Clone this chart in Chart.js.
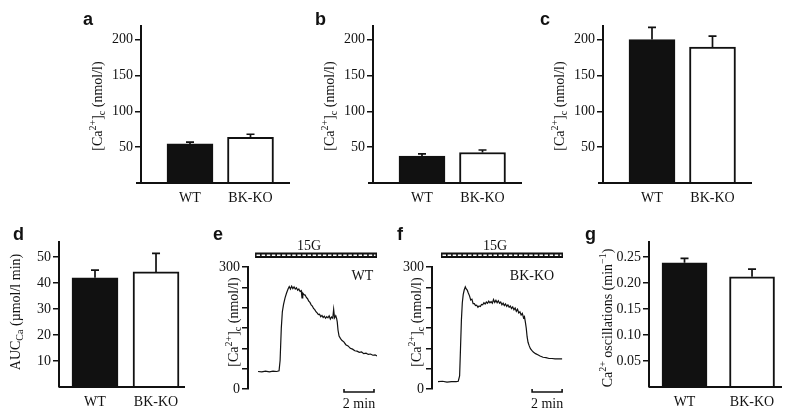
<!DOCTYPE html>
<html>
<head>
<meta charset="utf-8">
<title>BK-KO calcium</title>
<script src="https://cdn.jsdelivr.net/npm/chart.js@4.4.0/dist/chart.umd.min.js"></script>
<style>
  html, body { margin: 0; padding: 0; background: #fff; }
  #wrap { position: relative; width: 800px; height: 420px; }
  #wrap canvas { position: absolute; left: 0; top: 0; }
</style>
</head>
<body>
<div id="wrap">
  <canvas id="pa" width="800" height="420"></canvas>
  <canvas id="pb" width="800" height="420"></canvas>
  <canvas id="pc" width="800" height="420"></canvas>
  <canvas id="pd" width="800" height="420"></canvas>
  <canvas id="pe" width="800" height="420"></canvas>
  <canvas id="pf" width="800" height="420"></canvas>
  <canvas id="pg" width="800" height="420"></canvas>
</div>
<script>
const groups = ['WT', 'BK-KO'];

// a, b, c: [Ca2+]c (nmol/l), mean and SEM
const caA = [54.5, 63.8];
const caAErr = [2.6, 4.2];
const caB = [37.5, 42.5];
const caBErr = [3, 3.5];
const caC = [200, 189.5];
const caCErr = [17, 15.5];

// d: AUC (µmol/l min)
const auc = [42, 44.3];
const aucErr = [3, 7.1];

// g: oscillation frequency (min-1)
const osc = [0.239, 0.212];
const oscErr = [0.0085, 0.015];

const caTicks = [50, 100, 150, 200];
const aucTicks = [10, 20, 30, 40, 50];
const oscTicks = [0.05, 0.10, 0.15, 0.20, 0.25];
const traceTicks = [0, 50, 100, 150, 200, 250, 300];

// e: WT trace, time (min) and [Ca2+]c (nmol/l)
const timeWT = [
  0.0, 0.25, 0.5, 0.75, 1.0, 1.25, 1.4, 1.47, 1.55, 1.62,
  1.7, 1.8, 1.9, 2.0, 2.08, 2.16, 2.24, 2.32, 2.4, 2.48,
  2.56, 2.64, 2.72, 2.8, 2.88, 2.93, 2.98, 3.06, 3.14, 3.22,
  3.3, 3.38, 3.46, 3.54, 3.62, 3.7, 3.78, 3.86, 3.94, 4.02,
  4.1, 4.18, 4.26, 4.34, 4.42, 4.5, 4.58, 4.66, 4.74, 4.82,
  4.9, 4.98, 5.04, 5.1, 5.18, 5.24, 5.28, 5.33, 5.4, 5.5,
  5.6, 5.72, 5.85, 6.0, 6.15, 6.3, 6.45, 6.6, 6.75, 6.9,
  7.05, 7.2, 7.35, 7.5, 7.65, 7.8, 7.93
];
const caWT = [
  43, 42, 44, 42, 44, 43, 45, 70, 150, 190,
  208, 224, 236, 246, 252, 246, 253, 247, 251, 246,
  249, 243, 246, 240, 242, 224, 236, 232, 231, 225,
  222, 216, 213, 207, 204, 198, 195, 190, 187, 183,
  184, 178, 181, 176, 179, 174, 178, 175, 180, 172,
  177, 174, 196, 175, 180, 173, 165, 145, 130, 124,
  119, 116, 109, 106, 100, 98, 94, 93, 90, 91,
  87, 88, 85, 86, 83, 84, 81
];

// f: BK-KO trace
const timeKO = [
  0.0, 0.3, 0.6, 0.9, 1.2, 1.35, 1.44, 1.5, 1.56, 1.62,
  1.68, 1.75, 1.82, 1.88, 1.95, 2.02, 2.1, 2.18, 2.26, 2.34,
  2.42, 2.5, 2.58, 2.66, 2.74, 2.82, 2.9, 2.98, 3.06, 3.14,
  3.22, 3.3, 3.38, 3.46, 3.54, 3.62, 3.7, 3.78, 3.86, 3.94,
  4.02, 4.1, 4.18, 4.26, 4.34, 4.42, 4.5, 4.58, 4.66, 4.74,
  4.82, 4.9, 4.98, 5.06, 5.14, 5.22, 5.3, 5.38, 5.46, 5.54,
  5.62, 5.7, 5.76, 5.82, 5.88, 5.94, 6.0, 6.08, 6.16, 6.25,
  6.35, 6.5, 6.65, 6.8, 7.0, 7.2, 7.4, 7.6, 7.8, 8.0,
  8.15, 8.27
];
const caKO = [
  18, 19, 17, 18, 18, 19, 32, 100, 170, 212,
  232, 244, 251, 246, 243, 236, 229, 219, 221, 210,
  210, 205, 206, 201, 204, 203, 208, 207, 212, 209,
  214, 211, 216, 212, 215, 211, 220, 213, 218, 212,
  217, 211, 214, 207, 211, 205, 209, 203, 207, 201,
  204, 198, 202, 195, 199, 191, 196, 187, 190, 182,
  186, 175, 178, 165, 150, 128, 115, 106, 99, 95,
  91, 87, 84, 81, 78, 77, 75, 75, 74, 74,
  74, 74
];

// 15 mM glucose period and 2 min scale bar (min, on each trace's time axis)
const glucoseWT = [-0.2, 7.93];
const glucoseKO = [0.2, 8.33];
const scaleBarWT = [5.73, 2];
const scaleBarKO = [6.27, 2];

const INK = '#111';
const SERIF = '"Liberation Serif", "Times New Roman", serif';
const SANS = '"Liberation Sans", Arial, sans-serif';

Chart.defaults.font.family = SERIF;
Chart.defaults.font.size = 14;
Chart.defaults.color = INK;
Chart.defaults.animation = false;
Chart.defaults.responsive = false;
Chart.defaults.plugins.legend.display = false;
Chart.defaults.plugins.tooltip.enabled = false;

// text with ^sup and _sub pieces, centred on (cx, cy)
function richText(ctx, parts, cx, cy, rotate, size) {
  ctx.save();
  ctx.translate(cx, cy);
  if (rotate) ctx.rotate(-Math.PI / 2);
  const big = size + 'px ' + SERIF;
  const small = Math.round(size * 0.72) + 'px ' + SERIF;
  const pieces = parts.map(p => {
    const kind = p[0] === '^' ? 'sup' : p[0] === '_' ? 'sub' : '';
    const t = kind ? p.slice(1) : p;
    ctx.font = kind ? small : big;
    return { t, kind, w: ctx.measureText(t).width };
  });
  let x = -pieces.reduce((s, p) => s + p.w, 0) / 2;
  ctx.textAlign = 'left';
  ctx.textBaseline = 'alphabetic';
  ctx.fillStyle = INK;
  pieces.forEach(p => {
    ctx.font = p.kind ? small : big;
    const dy = p.kind === 'sup' ? -size * 0.38 : p.kind === 'sub' ? size * 0.24 : 0;
    ctx.fillText(p.t, x, size * 0.34 + dy);
    x += p.w;
  });
  ctx.restore();
}

function decor(cfg) {
  return {
    id: 'decor',
    afterDatasetsDraw(chart) {
      const ctx = chart.ctx;
      const xs = chart.scales.x, ys = chart.scales.y, area = chart.chartArea;
      ctx.save();
      ctx.strokeStyle = INK;
      ctx.fillStyle = INK;

      if (cfg.errors) {
        ctx.lineWidth = 1.7;
        chart.getDatasetMeta(0).data.forEach((bar, i) => {
          const v = chart.data.datasets[0].data[i].y;
          const top = ys.getPixelForValue(v + cfg.errors[i]);
          ctx.beginPath();
          ctx.moveTo(bar.x, bar.y);
          ctx.lineTo(bar.x, top);
          ctx.moveTo(bar.x - 4, top);
          ctx.lineTo(bar.x + 4, top);
          ctx.stroke();
        });
      }

      if (cfg.xLine !== undefined) {
        ctx.lineWidth = 2;
        ctx.beginPath();
        ctx.moveTo(area.left - cfg.xLine, area.bottom);
        ctx.lineTo(area.right, area.bottom);
        ctx.stroke();
      }

      if (cfg.glucose) {
        const x0 = xs.getPixelForValue(cfg.glucose[0]);
        const x1 = xs.getPixelForValue(cfg.glucose[1]);
        ctx.fillRect(x0, 252.5, x1 - x0, 5.5);
        ctx.strokeStyle = '#fff';
        ctx.lineWidth = 1.6;
        ctx.setLineDash([3.5, 1.6]);
        ctx.beginPath();
        ctx.moveTo(x0 + 1.5, 255.25);
        ctx.lineTo(x1 - 1.5, 255.25);
        ctx.stroke();
        ctx.setLineDash([]);
        ctx.strokeStyle = INK;
        richText(ctx, ['15G'], (x0 + x1) / 2 - 7, 245, false, 14);
      }

      if (cfg.scaleBar) {
        const s0 = xs.getPixelForValue(cfg.scaleBar[0]);
        const s1 = xs.getPixelForValue(cfg.scaleBar[0] + cfg.scaleBar[1]);
        const yb = ys.getPixelForValue(0) + 3;
        ctx.lineWidth = 1.6;
        ctx.beginPath();
        ctx.moveTo(s0, yb - 3);
        ctx.lineTo(s0, yb);
        ctx.lineTo(s1, yb);
        ctx.lineTo(s1, yb - 3);
        ctx.stroke();
        richText(ctx, [cfg.scaleBar[1] + ' min'], (s0 + s1) / 2, yb + 11, false, 14);
      }

      (cfg.notes || []).forEach(n => richText(ctx, n.parts, n.x, n.y, n.rot, n.size || 14));

      if (cfg.letter) {
        ctx.font = 'bold 18px ' + SANS;
        ctx.textAlign = 'left';
        ctx.textBaseline = 'alphabetic';
        ctx.fillText(cfg.letter[0], cfg.letter[1], cfg.letter[2]);
      }
      ctx.restore();
    }
  };
}

function yAxis(max, ticks, fmt, width) {
  return {
    min: 0,
    max: max,
    afterFit: s => { s.width = width; },
    afterBuildTicks: s => { s.ticks = ticks.map(v => ({ value: v })); },
    ticks: { padding: 2, autoSkip: false, callback: fmt, font: { size: 14 } },
    grid: { drawOnChartArea: false, tickLength: 6, color: INK, lineWidth: 1.5 },
    border: { color: INK, width: 2 }
  };
}

function barPanel(id, box, values, errors, yMax, ticks, fmt, xRange, thick, cfg) {
  const yw = 40, xh = 30;
  return new Chart(document.getElementById(id), {
    type: 'bar',
    data: {
      datasets: [{
        data: values.map((v, i) => ({ x: i, y: v })),
        backgroundColor: [INK, '#fff'],
        borderColor: INK,
        borderWidth: 2,
        barThickness: thick
      }]
    },
    options: {
      layout: { padding: { left: box.left - yw, top: box.top, right: 800 - box.right, bottom: 420 - box.bottom - xh } },
      scales: {
        x: {
          type: 'linear', offset: false, min: xRange[0], max: xRange[1],
          afterFit: s => { s.height = xh; },
          afterBuildTicks: s => { s.ticks = groups.map((g, i) => ({ value: i })); },
          ticks: { padding: 7, autoSkip: false, maxRotation: 0, callback: v => groups[v] },
          grid: { display: false, drawTicks: false },
          border: { display: false }
        },
        y: yAxis(yMax, ticks, fmt, yw)
      }
    },
    plugins: [decor(Object.assign({ errors: errors }, cfg))]
  });
}

function tracePanel(id, box, times, values, tRange, cfg) {
  const yw = 40;
  return new Chart(document.getElementById(id), {
    type: 'line',
    data: {
      datasets: [{
        data: times.map((t, i) => ({ x: t, y: values[i] })),
        borderColor: INK,
        borderWidth: 1.2,
        pointRadius: 0,
        tension: 0
      }]
    },
    options: {
      layout: { padding: { left: box.left - yw, top: box.top, right: 800 - box.right, bottom: 420 - box.bottom } },
      scales: {
        x: { type: 'linear', min: tRange[0], max: tRange[1], display: false },
        y: yAxis(300, traceTicks, v => (v === 0 || v === 300) ? v : '', yw)
      }
    },
    plugins: [decor(cfg)]
  });
}

const caTitle = ['[Ca', '^2+', ']', '_c', ' (nmol/l)'];
const intFmt = v => v;

barPanel('pa', { left: 141, right: 290, top: 26, bottom: 183 }, caA, caAErr, 219, caTicks, intFmt,
  [-0.81, 1.653], 46,
  { xLine: 5, letter: ['a', 83, 25], notes: [{ parts: caTitle, x: 97, y: 106, rot: true }] });

barPanel('pb', { left: 373, right: 522, top: 26, bottom: 183 }, caB, caBErr, 219, caTicks, intFmt,
  [-0.81, 1.653], 46,
  { xLine: 5, letter: ['b', 315, 25], notes: [{ parts: caTitle, x: 329, y: 106, rot: true }] });

barPanel('pc', { left: 603, right: 752, top: 26, bottom: 183 }, caC, caCErr, 219, caTicks, intFmt,
  [-0.81, 1.653], 46,
  { xLine: 5, letter: ['c', 540, 25], notes: [{ parts: caTitle, x: 559, y: 106, rot: true }] });

barPanel('pd', { left: 59, right: 185, top: 242, bottom: 387 }, auc, aucErr, 55.8, aucTicks, intFmt,
  [-0.59, 1.475], 46,
  { xLine: 0, letter: ['d', 13, 240],
    notes: [{ parts: ['AUC', '_Ca', ' (µmol/l min)'], x: 15, y: 312, rot: true }] });

tracePanel('pe', { left: 248, right: 377, top: 267, bottom: 389 }, timeWT, caWT, [-0.67, 7.93],
  { glucose: glucoseWT, scaleBar: scaleBarWT, letter: ['e', 213, 240],
    notes: [{ parts: caTitle, x: 233, y: 322, rot: true }, { parts: ['WT'], x: 362.5, y: 275 }] });

tracePanel('pf', { left: 432, right: 563, top: 267, bottom: 389 }, timeKO, caKO, [-0.4, 8.33],
  { glucose: glucoseKO, scaleBar: scaleBarKO, letter: ['f', 397, 240],
    notes: [{ parts: caTitle, x: 416, y: 322, rot: true }, { parts: ['BK-KO'], x: 532, y: 275 }] });

barPanel('pg', { left: 649, right: 782, top: 242, bottom: 387 }, osc, oscErr, 0.279, oscTicks, v => v.toFixed(2),
  [-0.526, 1.444], 45,
  { xLine: 0, letter: ['g', 585, 240],
    notes: [{ parts: ['Ca', '^2+', ' oscillations (min', '^\u22121', ')'], x: 607, y: 318, rot: true }] });
</script>
</body>
</html>
